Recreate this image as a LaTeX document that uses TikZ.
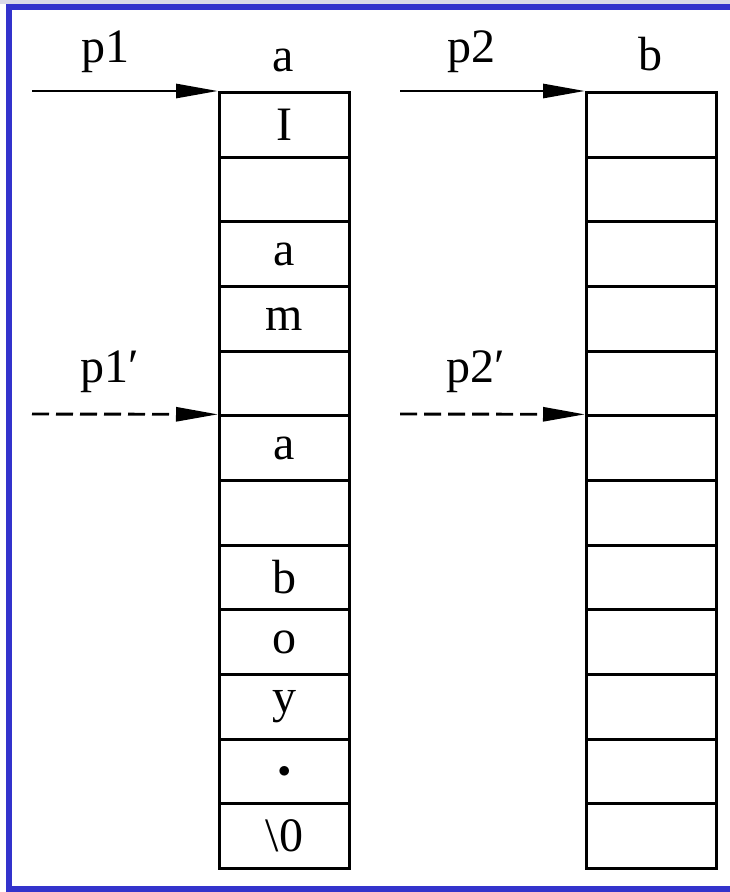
\documentclass[tikz,border=0pt]{standalone}
\usepackage{fontspec}
\setmainfont{Liberation Serif}
\usetikzlibrary{arrows.meta,positioning}
\definecolor{frameblue}{RGB}{51,51,204}
\definecolor{topband}{RGB}{218,218,232}

\begin{document}
\begin{tikzpicture}[x=1pt, y=-1pt,
    cellbox/.style={draw, line width=2.9pt, minimum width=130pt, minimum height=64.67pt,
        inner sep=0pt, anchor=north west, font=\fontsize{48}{52}\selectfont},
    ptr/.style={line width=2.9pt, -{Triangle[length=42pt,width=14pt]}},
    lbl/.style={font=\fontsize{48}{52}\selectfont}]
    \useasboundingbox (0,0) rectangle (730,892);

    % Frame
    \fill[topband] (0,0) rectangle (730,4);
    \draw[frameblue, line width=6pt] (9,7) rectangle (760,889);

    % Array a
    \foreach \t [count=\i] in {I,{},a,m,{},a,{},b,o,y,$\bullet$,\textbackslash 0}
        \node[cellbox] (a\i) at (218,{91+(\i-1)*64.67}) {\t};

    % Array b
    \foreach \i in {1,...,12}
        \node[cellbox] (b\i) at (585,{91+(\i-1)*64.67}) {};

    % Array names
    \node[lbl] (na) at (283,60) {a};
    \node[lbl] (nb) at (650,54) {b};

    % Pointers
    \node[lbl] (lp1) at (105,52) {p1};
    \node[lbl] (lp2) at (471,52) {p2};
    \node[lbl] (lq1) at (110,372) {p1\char"2032};
    \node[lbl] (lq2) at (476,372) {p2\char"2032};

    \coordinate (p1s) at (32,91);
    \coordinate (p2s) at (400,91);
    \coordinate (q1s) at (32,414);
    \coordinate (q2s) at (400,414);

    \draw[ptr] (p1s) -- (a1.north west);
    \draw[ptr] (p2s) -- (b1.north west);
    \draw[ptr, dash pattern=on 17pt off 7pt] (q1s) -- (a6.north west);
    \draw[ptr, dash pattern=on 17pt off 7pt] (q2s) -- (b6.north west);
\end{tikzpicture}
\end{document}
